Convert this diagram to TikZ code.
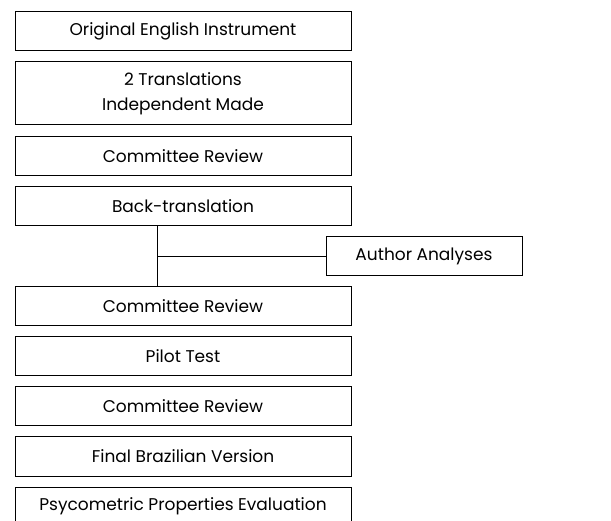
\documentclass[tikz,border=0pt]{standalone}
\usepackage{fontspec}
\setmainfont{Poppins}
\usepackage{tikz}

\begin{document}
\begin{tikzpicture}[x=1pt,y=-1pt]
          \tikzstyle{every node}+=[inner sep=0pt]
          \tikzstyle{stage}=[draw=black, line width=1pt, minimum width=336pt, minimum height=39pt, align=center, font=\fontsize{17}{25}\selectfont]
          \useasboundingbox (0,0) rectangle (611,521);
          \node [stage] (orig) at (183,31.5) {Original English Instrument};
          \node [stage, minimum height=63pt] (trans) at (183,93.5) {2 Translations\\Independent Made};
          \node [stage] (rev1) at (183,156) {Committee Review};
          \node [stage] (back) at (183,206) {Back-translation};
          \node [stage, minimum width=196pt] (author) at (424,256.5) {Author Analyses};
          \node [stage] (rev2) at (183,306.5) {Committee Review};
          \node [stage] (pilot) at (183,356.5) {Pilot Test};
          \node [stage] (rev3) at (183,406.5) {Committee Review};
          \node [stage] (final) at (183,456.5) {Final Brazilian Version};
          \node [stage] (psy) at (183,506.5) {Psycometric Properties Evaluation};
          \coordinate (join) at (157,256.5);
          \draw [line width=1pt] (join |- back.south) -- (join |- rev2.north);
          \draw [line width=1pt] (join) -- (author.west);
\end{tikzpicture}
\end{document}
